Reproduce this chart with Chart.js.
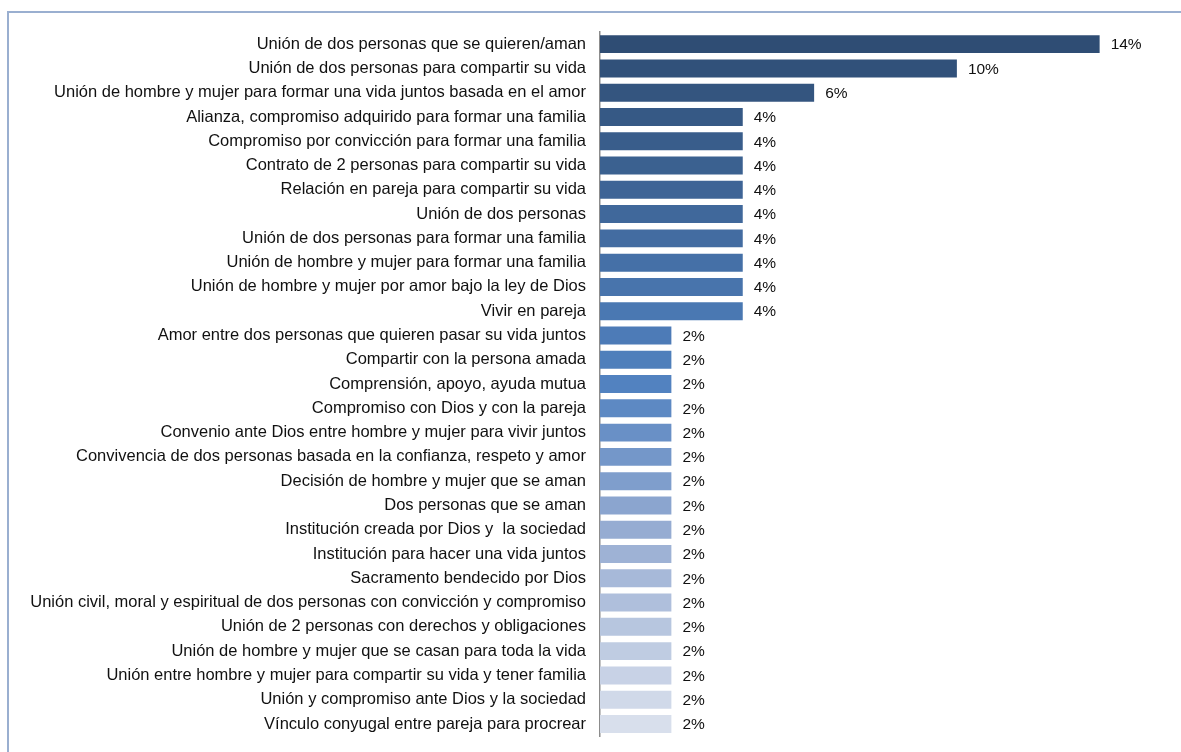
<!DOCTYPE html>
<html>
<head>
<meta charset="utf-8">
<script src="https://cdn.jsdelivr.net/npm/chart.js@4/dist/chart.umd.min.js"></script>
<style>
  html, body { margin: 0; padding: 0; background: #fff; overflow: hidden; }
  #wrap { position: relative; width: 1181px; height: 752px; }
  #frame { position: absolute; left: 7px; top: 11px; width: 1200px; height: 800px; border: 2px solid #9AAFD0; box-sizing: border-box; }
  canvas { position: absolute; left: 0; top: 0; }
</style>
</head>
<body>
<div id="wrap">
  <div id="frame"></div>
  <canvas id="chart" width="1181" height="752"></canvas>
</div>
<script>
const categories = [
  'Unión de dos personas que se quieren/aman',
  'Unión de dos personas para compartir su vida',
  'Unión de hombre y mujer para formar una vida juntos basada en el amor',
  'Alianza, compromiso adquirido para formar una familia',
  'Compromiso por convicción para formar una familia',
  'Contrato de 2 personas para compartir su vida',
  'Relación en pareja para compartir su vida',
  'Unión de dos personas',
  'Unión de dos personas para formar una familia',
  'Unión de hombre y mujer para formar una familia',
  'Unión de hombre y mujer por amor bajo la ley de Dios',
  'Vivir en pareja',
  'Amor entre dos personas que quieren pasar su vida juntos',
  'Compartir con la persona amada',
  'Comprensión, apoyo, ayuda mutua',
  'Compromiso con Dios y con la pareja',
  'Convenio ante Dios entre hombre y mujer para vivir juntos',
  'Convivencia de dos personas basada en la confianza, respeto y amor',
  'Decisión de hombre y mujer que se aman',
  'Dos personas que se aman',
  'Institución creada por Dios y  la sociedad',
  'Institución para hacer una vida juntos',
  'Sacramento bendecido por Dios',
  'Unión civil, moral y espiritual de dos personas con convicción y compromiso',
  'Unión de 2 personas con derechos y obligaciones',
  'Unión de hombre y mujer que se casan para toda la vida',
  'Unión entre hombre y mujer para compartir su vida y tener familia',
  'Unión y compromiso ante Dios y la sociedad',
  'Vínculo conyugal entre pareja para procrear'
];
const values = [14, 10, 6, 4, 4, 4, 4, 4, 4, 4, 4, 4, 2, 2, 2, 2, 2, 2, 2, 2, 2, 2, 2, 2, 2, 2, 2, 2, 2];

// colour ramp from dark navy to pale blue
const stops = [[0, [47, 77, 116]], [11, [74, 120, 178]], [14, [82, 130, 192]], [20, [150, 172, 210]], [28, [216, 223, 236]]];
function rampColor(i) {
  for (let s = 0; s < stops.length - 1; s++) {
    const [a, ca] = stops[s], [b, cb] = stops[s + 1];
    if (i >= a && i <= b) {
      const t = (i - a) / (b - a);
      const c = ca.map((v, k) => Math.round(v + (cb[k] - v) * t));
      return `rgb(${c[0]}, ${c[1]}, ${c[2]})`;
    }
  }
  return 'rgb(216, 223, 236)';
}
const colors = categories.map((_, i) => rampColor(i));

const valueLabels = {
  id: 'valueLabels',
  afterDatasetsDraw(chart) {
    const ctx = chart.ctx;
    const meta = chart.getDatasetMeta(0);
    ctx.save();
    ctx.font = '15.5px "Liberation Sans", Arial, sans-serif';
    ctx.fillStyle = '#111';
    ctx.textBaseline = 'middle';
    ctx.textAlign = 'left';
    meta.data.forEach((bar, i) => {
      ctx.fillText(values[i] + '%', bar.x + 11, bar.y + 1);
    });
    ctx.restore();
  }
};

new Chart(document.getElementById('chart'), {
  type: 'bar',
  data: {
    labels: categories,
    datasets: [{
      data: values,
      backgroundColor: colors,
      borderWidth: 0,
      barPercentage: 0.74,
      categoryPercentage: 1
    }]
  },
  options: {
    indexAxis: 'y',
    responsive: false,
    animation: false,
    layout: { padding: { top: 32, bottom: 9, left: 0, right: 10 } },
    plugins: { legend: { display: false }, tooltip: { enabled: false } },
    scales: {
      x: { display: false, min: 0, max: 16 },
      y: {
        afterFit(scale) { scale.width = 600; },
        grid: { display: false },
        border: { display: true, color: '#8c8c8c', width: 1.5 },
        ticks: {
          padding: 6,
          color: '#111',
          autoSkip: false,
          font: { family: '"Liberation Sans", Arial, sans-serif', size: 16.5 }
        }
      }
    }
  },
  plugins: [valueLabels]
});
</script>
</body>
</html>
